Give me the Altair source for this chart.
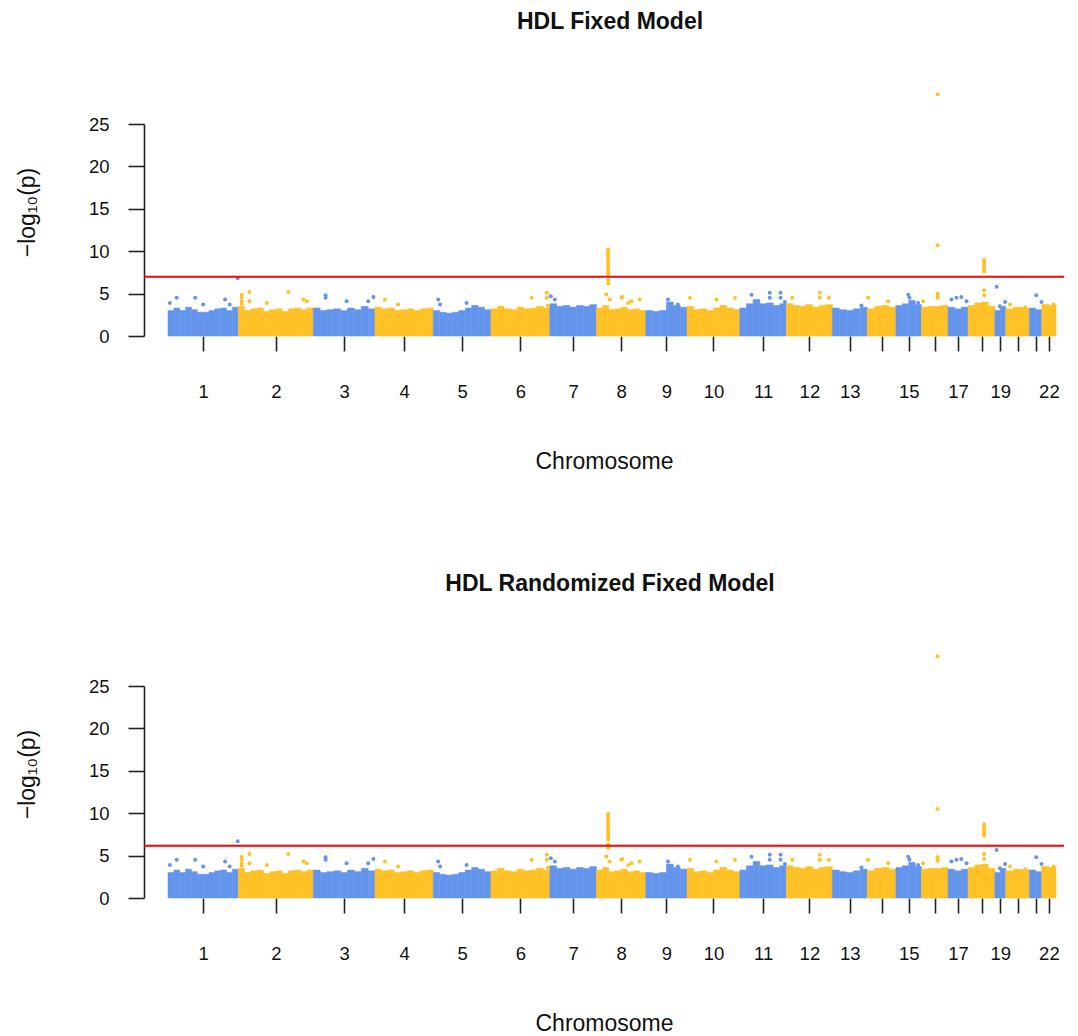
import altair as alt
import pandas as pd

# ---------------- data ----------------
chrom_names = [str(i) for i in range(1, 23)]
# relative span of each chromosome along the genome axis
chrom_len = [228, 243, 200, 189, 187, 191, 151, 160, 134, 171, 151, 149,
             113, 93, 83, 86, 65, 87, 35, 77, 40, 46]
axis_labels = ["1", "2", "3", "4", "5", "6", "7", "8", "9", "10", "11", "12",
               "13", "", "15", "", "17", "", "19", "", "", "22"]

# upper edge of the dense band of SNPs, per chromosome (-log10 p)
env_1 = [3.0, 3.3, 3.0, 3.4, 3.1, 2.8, 2.8, 3.0, 3.2, 3.3, 3.0, 3.4]
env_2 = [3.5, 3.0, 3.2, 3.3, 2.9, 3.1, 3.2, 2.9, 3.2, 3.3, 3.1, 3.3]
env_3 = [3.3, 3.0, 3.1, 3.2, 3.0, 3.3, 3.1, 3.5, 3.2]
env_4 = [3.4, 3.2, 3.3, 3.0, 3.1, 3.2, 3.0, 3.2, 3.3]
env_5 = [3.0, 2.8, 2.7, 2.8, 3.0, 3.3, 3.6, 3.4, 3.1]
env_6 = [3.2, 3.5, 3.2, 3.1, 3.4, 3.2, 3.3, 3.5, 3.3]
env_7 = [3.8, 3.5, 3.6, 3.4, 3.6, 3.5, 3.7]
env_8 = [3.3, 3.6, 3.1, 3.2, 3.4, 3.1, 3.2, 3.0]
env_9 = [3.0, 2.9, 3.0, 4.0, 3.6, 3.4]
env_10 = [3.5, 3.1, 3.2, 3.0, 3.3, 3.6, 3.3, 3.1]
env_11 = [3.3, 3.8, 4.3, 3.8, 3.9, 3.6, 3.8]
env_12 = [3.8, 3.6, 3.5, 3.7, 3.4, 3.6, 3.7]
env_13 = [3.3, 3.1, 3.0, 3.2, 3.4]
env_14 = [3.2, 3.5, 3.6, 3.4]
env_15 = [3.6, 3.8, 4.2, 3.7]
env_16 = [3.4, 3.5, 3.5, 3.6]
env_17 = [3.4, 3.2, 3.4]
env_18 = [3.6, 3.9, 4.0, 3.5]
env_19 = [3.0, 3.5]
env_20 = [3.2, 3.4, 3.3]
env_21 = [3.3, 3.1]
env_22 = [3.7, 3.6]
envelopes = [env_1, env_2, env_3, env_4, env_5, env_6, env_7, env_8, env_9, env_10,
             env_11, env_12, env_13, env_14, env_15, env_16, env_17, env_18,
             env_19, env_20, env_21, env_22]

# scattered SNPs above the band (shared by both panels)
bg_chr = [1, 1, 1, 1, 1, 1,
          2, 2, 2, 2, 2, 2, 2, 2, 2, 2,
          3, 3, 3, 3, 3,
          4, 4,
          5, 5, 5,
          6, 6, 6, 6,
          7, 7,
          8, 8, 8, 8, 8, 8, 8,
          9, 9,
          10, 10, 10,
          11, 11, 11, 11, 11, 11,
          12, 12, 12, 12,
          13,
          14, 14,
          15, 15, 15,
          16,
          17, 17, 17, 17,
          19, 19,
          20, 20,
          21, 21,
          22, 22]
bg_pos = [28, 6, 88, 114, 185, 200,
          11, 11, 11, 11, 36, 36, 92, 162, 211, 222,
          40, 40, 108, 178, 195,
          32, 75,
          16, 22, 108,
          132, 181, 181, 185,
          3, 16,
          32, 43, 81, 84, 103, 114, 140,
          72, 104,
          9, 95, 155,
          38, 97, 97, 132, 132, 146,
          19, 108, 108, 138,
          94,
          3, 68,
          40, 44, 72,
          5,
          11, 27, 43, 60,
          16, 33,
          14, 63,
          22, 39,
          5, 38]
bg_val = [4.5, 3.9, 4.5, 3.7, 4.3, 3.7,
          4.85, 4.5, 4.1, 3.8, 5.2, 4.1, 3.9, 5.2, 4.3, 4.1,
          4.8, 4.5, 4.1, 4.1, 4.6,
          4.3, 3.7,
          4.3, 3.7, 3.9,
          4.5, 5.1, 4.5, 3.6,
          4.7, 4.3,
          4.9, 4.3, 4.5, 4.6, 3.9, 4.1, 4.3,
          4.3, 3.7,
          4.5, 4.3, 4.5,
          4.85, 5.1, 4.5, 5.1, 4.5, 4.0,
          4.5, 5.1, 4.5, 4.5,
          3.6,
          4.5, 4.1,
          4.85, 4.5, 3.9,
          4.1,
          4.3, 4.5, 4.6, 4.1,
          3.5, 4.0,
          3.7, 3.4,
          4.8, 4.0,
          3.5, 3.7]

# association peaks (differ slightly between the two models)
peak_chr = [1,
            8, 8, 8, 8, 8, 8, 8, 8, 8, 8, 8, 8, 8,
            16, 16, 16, 16, 16,
            18, 18, 18, 18, 18, 18, 18, 18,
            19]
peak_pos = [226,
            38, 38, 38, 38, 38, 38, 38, 38, 38, 38, 38, 38, 38,
            52, 52, 52, 52, 52,
            52, 52, 52, 52, 52, 52, 52, 52,
            5.5]
peak_fixed = [6.8,
              10.2, 9.9, 9.6, 9.3, 9.0, 8.7, 8.4, 8.1, 7.8, 7.5, 7.2, 6.6, 6.2,
              28.5, 10.7, 5.0, 4.7, 4.5,
              9.0, 8.7, 8.4, 8.1, 7.8, 7.6, 5.4, 4.8,
              5.8]
peak_random = [6.7,
               9.9, 9.6, 9.3, 9.0, 8.7, 8.4, 8.1, 7.8, 7.5, 7.2, 6.9, 6.3, 5.9,
               28.5, 10.5, 4.8, 4.6, 4.4,
               8.7, 8.4, 8.1, 7.8, 7.6, 7.4, 5.2, 4.6,
               5.65]

threshold_fixed = 7.0
threshold_random = 6.15

BLUE = "#6495ED"
ORANGE = "#FFC125"
FONT = "Liberation Sans"

# ---------------- derived tables ----------------
starts = []
acc = 0.0
for L in chrom_len:
    starts.append(acc)
    acc += L
total = acc
centers = [round(s + L / 2, 2) for s, L in zip(starts, chrom_len)]

env_rows = []
for ci, (s, L, hs) in enumerate(zip(starts, chrom_len, envelopes)):
    n = len(hs)
    for i, h in enumerate(hs):
        env_rows.append({"x": s + i * L / n, "x2": s + (i + 1) * L / n,
                         "y": h, "base": 0.0,
                         "parity": "odd" if ci % 2 == 0 else "even"})
env_df = pd.DataFrame(env_rows)

bg_df = pd.DataFrame({
    "x": [starts[c - 1] + p for c, p in zip(bg_chr, bg_pos)],
    "y": bg_val,
    "parity": ["odd" if c % 2 == 1 else "even" for c in bg_chr],
})


def peak_df(vals):
    return pd.DataFrame({
        "x": [starts[c - 1] + p for c, p in zip(peak_chr, peak_pos)],
        "y": vals,
        "parity": ["odd" if c % 2 == 1 else "even" for c in peak_chr],
    })


PLOT_W = 920
PLOT_H = 212
k = total / 888.0
x_scale = alt.Scale(domain=[-24 * k, total + 8 * k], nice=False, zero=False)
y_scale = alt.Scale(domain=[0, 25], nice=False, zero=True)
color_scale = alt.Scale(domain=["odd", "even"], range=[BLUE, ORANGE])

label_expr = ("[" + ",".join('"%s"' % t for t in axis_labels) + "][indexof(["
              + ",".join(repr(c) for c in centers) + "], datum.value)]")

x_axis = alt.Axis(values=centers, labelExpr=label_expr, domain=False, grid=False,
                  ticks=True, tickSize=15, tickWidth=1.6, tickColor="#222222",
                  labelFont=FONT, labelFontSize=18.5, labelColor="#111111",
                  labelPadding=31, labelFlush=False, labelOverlap=False,
                  title="Chromosome", titleFont=FONT, titleFontSize=23,
                  titleFontWeight="normal", titleColor="#111111", titlePadding=50)
y_axis = alt.Axis(values=[0, 5, 10, 15, 20, 25], grid=False,
                  domain=True, domainColor="#222222", domainWidth=1.6,
                  ticks=True, tickSize=16, tickWidth=1.6, tickColor="#222222",
                  labelFont=FONT, labelFontSize=18.5, labelColor="#111111",
                  labelPadding=19,
                  title="−log₁₀(p)", titleFont=FONT, titleFontSize=23,
                  titleFontWeight="normal", titleColor="#111111",
                  titlePadding=49, titleY=88)


def panel(title, peaks, thr):
    band = alt.Chart(env_df).mark_rect(strokeWidth=0.6).encode(
        x=alt.X("x:Q", scale=x_scale, axis=x_axis),
        x2="x2:Q",
        y=alt.Y("y:Q", scale=y_scale, axis=y_axis),
        y2="base:Q",
        color=alt.Color("parity:N", scale=color_scale, legend=None),
        stroke=alt.Stroke("parity:N", scale=color_scale, legend=None),
    )
    scatter = alt.Chart(bg_df).mark_circle(size=16, opacity=1).encode(
        x=alt.X("x:Q", scale=x_scale, axis=x_axis),
        y=alt.Y("y:Q", scale=y_scale, axis=y_axis),
        color=alt.Color("parity:N", scale=color_scale, legend=None),
    )
    pk = alt.Chart(peak_df(peaks)).mark_circle(size=16, opacity=1).encode(
        x=alt.X("x:Q", scale=x_scale, axis=x_axis),
        y=alt.Y("y:Q", scale=y_scale, axis=y_axis),
        color=alt.Color("parity:N", scale=color_scale, legend=None),
    )
    rule = alt.Chart(pd.DataFrame({"y": [thr]})).mark_rule(
        color="#FF0000", strokeWidth=2).encode(
        y=alt.Y("y:Q", scale=y_scale, axis=y_axis),
    )
    return alt.layer(band, scatter, pk, rule).properties(
        width=PLOT_W, height=PLOT_H,
        title=alt.TitleParams(text=title, font=FONT, fontSize=23,
                              fontWeight="bold", color="#111111",
                              anchor="middle", frame="group", dx=6, offset=58),
    )


chart = alt.vconcat(
    panel("HDL Fixed Model", peak_fixed, threshold_fixed),
    panel("HDL Randomized Fixed Model", peak_random, threshold_random),
    spacing=99,
).properties(
    padding={"left": 8, "right": 0, "top": 3, "bottom": 0},
    background="white",
).configure_view(strokeWidth=0, stroke="transparent")

chart.save("out.html", embed_options={"renderer": "svg", "actions": False})
